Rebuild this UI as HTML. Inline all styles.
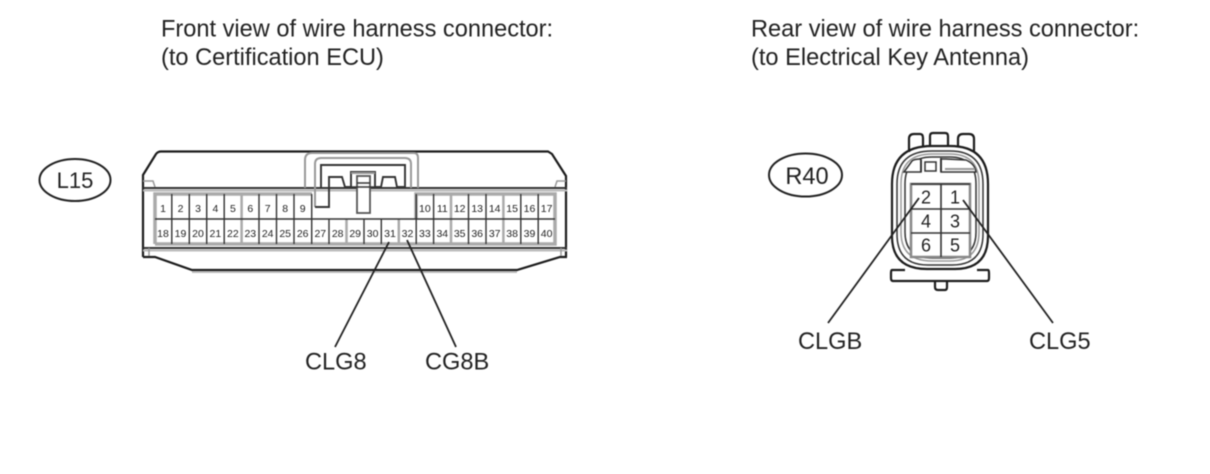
<!DOCTYPE html>
<html><head><meta charset="utf-8"><style>
html,body{margin:0;padding:0;background:#fff;width:1210px;height:474px;overflow:hidden}
svg{display:block;filter:blur(.45px)}
text{font-family:"Liberation Sans",sans-serif;fill:#222}
.t{font-size:23.6px}
.l{font-size:23.6px}
.n{font-size:10.5px;text-anchor:middle;fill:#333}
.m{font-size:18px;text-anchor:middle;fill:#444}
.k{fill:none;stroke:#333;stroke-width:1.9}
.b{fill:none;stroke:#1c1c1c;stroke-width:2.2}
.g{fill:none;stroke:#999;stroke-width:2}
.lg{fill:none;stroke:#bbb;stroke-width:2}
.th{stroke-width:1.5}
</style></head><body>
<svg width="1210" height="474" viewBox="0 0 1210 474" xmlns="http://www.w3.org/2000/svg">
<text class="t" x="161" y="36.500">Front view of wire harness connector:</text>
<text class="t" x="161" y="65">(to Certification ECU)</text>
<text class="t" x="751" y="36.500">Rear view of wire harness connector:</text>
<text class="t" x="751" y="65">(to Electrical Key Antenna)</text>

<ellipse cx="75" cy="180" rx="35.500" ry="21" fill="none" stroke="#222" stroke-width="2"/>
<text x="75" y="188" text-anchor="middle" style="font-size:22px">L15</text>
<ellipse cx="805.500" cy="175" rx="36.500" ry="21.500" fill="none" stroke="#222" stroke-width="2"/>
<text x="807" y="184" text-anchor="middle" style="font-size:23.6px">R40</text>

<!-- left connector body -->
<path class="b" d="M143 257V175L156 154Q158 151.500 161 151.500H548L552 154L566 176V257"/>
<path class="k" d="M143 188H567"/>
<path class="lg" d="M143 190.500H567"/>
<path class="k" d="M143 248H567"/>
<path class="lg" d="M143 250.500H567"/>
<path class="b" d="M143 257H155L192 270H517L560 257H567"/>
<path class="lg" d="M192 272H517"/>
<path class="g th" d="M143 181H153L155 187M555 187L557 181H566M149 248V256M561 248V256"/>

<!-- key notch -->
<path class="g" d="M305 188V160Q305 153 312 153H414Q418 153 418 158V188"/>
<path class="g" d="M315 207V164Q315 158 321 158H405Q411 158 411 164V188"/>
<path class="k" d="M315 207H329V177H342L345 187H351V172H375V187H381L383 177H395L397 187H405V165H321V188"/>
<path class="g" d="M351 173H375"/>
<rect x="357" y="176" width="13" height="37" fill="#fff" stroke="#555" stroke-width="1.800"/>
<path class="k th" d="M357 183H370M351 187H375"/>

<!-- grid left -->
<g fill="none">
<path stroke="#aaa" stroke-width="3.500" d="M155 244V194H312M416 219V194H555V244H155"/>
<path stroke="#aaa" stroke-width="2.500" d="M241.600 194V244M346.500 219V244M398.800 219V244M451 194V244M503.400 194V244"/>
<path stroke="#333" stroke-width="1.400" d="M155 219H555M311.700 194V244M329 219V244M364 219V244M381.300 219V244M416.200 194V244M433.600 194V244M468.500 194V244M486 194V244M520.800 194V244M538.200 194V244M171.800 194V244M189.300 194V244M206.700 194V244M224.200 194V244M259 194V244M276.500 194V244M294 194V244"/>
</g>
<g class="n">
<text x="163" y="212">1</text><text x="180.500" y="212">2</text><text x="198" y="212">3</text><text x="215.400" y="212">4</text><text x="232.900" y="212">5</text><text x="250.300" y="212">6</text><text x="267.700" y="212">7</text><text x="285.200" y="212">8</text><text x="302.700" y="212">9</text>
<text x="424.900" y="212">10</text><text x="442.300" y="212">11</text><text x="459.700" y="212">12</text><text x="477.200" y="212">13</text><text x="494.700" y="212">14</text><text x="512.100" y="212">15</text><text x="529.500" y="212">16</text><text x="546.600" y="212">17</text>
<text x="163" y="237">18</text><text x="180.500" y="237">19</text><text x="198" y="237">20</text><text x="215.400" y="237">21</text><text x="232.900" y="237">22</text><text x="250.300" y="237">23</text><text x="267.700" y="237">24</text><text x="285.200" y="237">25</text><text x="302.700" y="237">26</text><text x="320.300" y="237">27</text><text x="337.700" y="237">28</text><text x="355.200" y="237">29</text><text x="372.600" y="237">30</text><text x="390" y="237">31</text><text x="407.500" y="237">32</text><text x="424.900" y="237">33</text><text x="442.300" y="237">34</text><text x="459.700" y="237">35</text><text x="477.200" y="237">36</text><text x="494.700" y="237">37</text><text x="512.100" y="237">38</text><text x="529.500" y="237">39</text><text x="546.600" y="237">40</text>
</g>
<path d="M389 242L335 347M407 240L456 347" stroke="#222" stroke-width="1.800" fill="none"/>
<text class="l" x="305" y="369.500">CLG8</text>
<text class="l" x="425" y="369.500">CG8B</text>

<!-- right connector -->
<path class="b" d="M909 152V139Q909 134 914 134H920Q923 134 923 138V146M930 146V136Q930 133 933 133H945Q948 133 948 136V146M958 146V139Q958 134 963 134H969Q974 134 974 139V152"/>
<path class="b" d="M892 184Q892 146 932 146H950Q988 146 988 184V236Q988 269 955 269H927Q892 269 892 236Z"/>
<path class="k th" d="M897 184Q897 151 932 151H950Q983 151 983 184V234Q983 265 952 265H928Q897 265 897 234Z"/>
<path class="g th" d="M901 184Q901 154 932 154H950Q979 154 979 184V232Q979 261 950 261H932Q901 261 901 232Z"/>
<path class="k th" d="M905 184Q905 157 932 157H950Q976 157 976 184V232Q976 258 950 258H932Q905 258 905 232Z"/>
<path fill="#fff" stroke="#333" stroke-width="1.500" d="M904 172L912 161Q914 159 921 159V172ZM941 159V172H976Q975 164 966 160L946 159Z"/>
<path class="g" d="M945 169H975"/>
<rect x="925" y="162" width="11" height="9" fill="#fff" stroke="#333" stroke-width="1.500"/>
<path class="k" d="M921 160V172M941 158V172"/>
<rect x="911" y="184" width="59" height="73" fill="#fff" stroke="#888" stroke-width="2.500"/>
<path stroke="#333" stroke-width="1.600" fill="none" d="M941 184V257M911 209H970M911 233H970M911 184H970"/>
<path class="b" d="M905 270H892Q891 270 891 273V278Q891 281 893 281H987Q989 281 989 278V273Q989 270 988 270H977"/>
<path class="b" d="M935 281V287Q935 290 938 290H945Q947 290 947 287V281"/>
<g class="m">
<text x="926" y="203.500">2</text><text x="955" y="203.500">1</text>
<text x="926" y="227.500">4</text><text x="955" y="227.500">3</text>
<text x="926" y="251.500">6</text><text x="955" y="251.500">5</text>
</g>
<path d="M919 198L828 323M963 200L1053 323" stroke="#222" stroke-width="1.800" fill="none"/>
<text class="l" x="798" y="349">CLGB</text>
<text class="l" x="1029" y="349">CLG5</text>
</svg>
</body></html>
